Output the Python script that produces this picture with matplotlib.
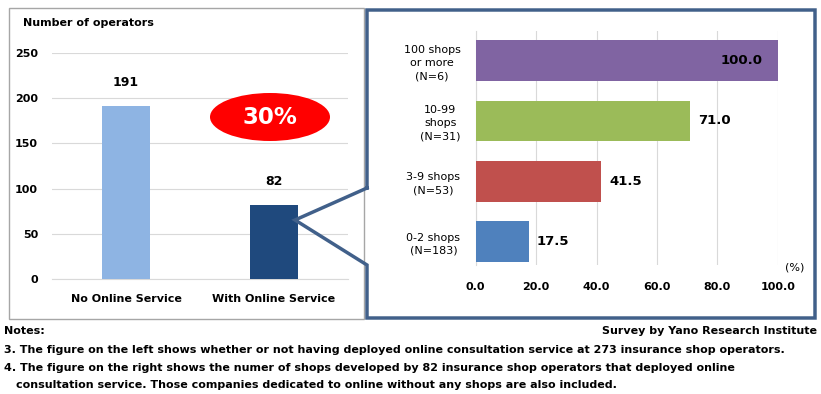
import matplotlib
matplotlib.use("Agg")
import matplotlib.pyplot as plt
from matplotlib.patches import Ellipse, Rectangle
from matplotlib.lines import Line2D

# ---- data ----
left_categories = ["No Online Service", "With Online Service"]
left_values = [191, 82]
left_yticks = [0, 50, 100, 150, 200, 250]

right_categories = ["0-2 shops\n(N=183)", "3-9 shops\n(N=53)", "10-99\nshops\n(N=31)", "100 shops\nor more\n(N=6)"]
right_values = [17.5, 41.5, 71.0, 100.0]
right_xticks = [0, 20, 40, 60, 80, 100]

share_label = "30%"

W, H = 821, 394
plt.rcParams['font.family'] = ['DejaVu Sans']
fig = plt.figure(figsize=(W / 100, H / 100), dpi=100)
fig.patch.set_facecolor('white')

def fx(x):
    return x / W

def fy(y):
    return 1 - y / H

def ax_rect(l, t, r, b):
    return [fx(l), fy(b), (r - l) / W, (b - t) / H]

grid_c = '#D9D9D9'

# ---- left panel ----
axl = fig.add_axes(ax_rect(52, 53, 348, 279))
axl.bar(range(len(left_values)), left_values, width=0.32,
        color=['#8EB4E3', '#1F497D'], zorder=3)
axl.set_xlim(-0.5, 1.5)
axl.set_ylim(0, 250)
axl.set_yticks(left_yticks)
axl.set_yticklabels([str(v) for v in left_yticks], fontsize=8, fontweight='bold')
axl.set_xticks(range(len(left_categories)))
axl.set_xticklabels(left_categories, fontsize=8, fontweight='bold')
axl.tick_params(length=0, pad=10)
axl.tick_params(axis='x', pad=11)
axl.grid(axis='y', color=grid_c, lw=0.8, zorder=0)
for s in ['top', 'right', 'left']:
    axl.spines[s].set_visible(False)
axl.spines['bottom'].set_color(grid_c)
for i, v in enumerate(left_values):
    axl.annotate(str(v), (i, v), xytext=(0, 17), textcoords='offset points',
                 ha='center', va='center', fontsize=9, fontweight='bold')

fig.text(fx(23), fy(23), "Number of operators", fontsize=8, fontweight='bold',
         ha='left', va='center')

ell = Ellipse((fx(270), fy(117)), 120 / W, 48 / H, transform=fig.transFigure,
              facecolor='#FF0000', edgecolor='none', zorder=5)
fig.add_artist(ell)
fig.text(fx(270), fy(118), share_label, fontsize=16.5, fontweight='bold', color='white',
         ha='center', va='center', zorder=6)

# left box
fig.add_artist(Rectangle((fx(9), fy(319)), 355 / W, 311 / H, transform=fig.transFigure,
                         facecolor='none', edgecolor='#A6A6A6', lw=1))

# ---- right panel ----
axr = fig.add_axes(ax_rect(475.7, 30.7, 777.7, 265))
colors_r = ['#4F81BD', '#C0504D', '#9BBB59', '#8064A2']
axr.barh(range(len(right_values)), right_values, height=0.67, color=colors_r, zorder=3)
axr.set_xlim(0, 100)
axr.set_ylim(-0.385, 3.49)
axr.set_xticks(right_xticks)
axr.set_xticklabels([f"{v:.1f}" for v in right_xticks], fontsize=8, fontweight='bold')
axr.set_yticks(range(len(right_categories)))
axr.set_yticklabels(right_categories, fontsize=8, multialignment='center', linespacing=1.4)
axr.tick_params(length=0)
axr.tick_params(axis='x', pad=12)
axr.tick_params(axis='y', pad=11)
axr.grid(axis='x', color=grid_c, lw=0.8, zorder=0)
for s in ['top', 'right', 'bottom']:
    axr.spines[s].set_visible(False)
axr.spines['left'].set_color(grid_c)
for i, v in enumerate(right_values):
    if v >= 95:
        axr.annotate(f"{v:.1f}", (v, i), xytext=(-11, 0), textcoords='offset points',
                     ha='right', va='center', fontsize=9.5, fontweight='bold')
    else:
        axr.annotate(f"{v:.1f}", (v, i), xytext=(6, 0), textcoords='offset points',
                     ha='left', va='center', fontsize=9.5, fontweight='bold')
fig.text(fx(795), fy(268), "(%)", fontsize=8, ha='center', va='center')

# right callout box with connector
box_c = '#41608A'
pts = [(367, 188), (367, 10), (815, 10), (815, 318), (367, 318), (367, 265), (295, 220), (367, 188)]
fig.add_artist(Line2D([fx(p[0]) for p in pts], [fy(p[1]) for p in pts],
                      transform=fig.transFigure, color=box_c, lw=2.5,
                      solid_joinstyle='miter'))

# ---- notes ----
fs = 8.0
fig.text(fx(4), fy(331), "Notes:", fontsize=fs, fontweight='bold', ha='left', va='center')
fig.text(fx(817), fy(331), "Survey by Yano Research Institute", fontsize=fs, fontweight='bold',
         ha='right', va='center')
fig.text(fx(4), fy(350), "3. The figure on the left shows whether or not having deployed online consultation service at 273 insurance shop operators.",
         fontsize=fs, fontweight='bold', ha='left', va='center')
fig.text(fx(4), fy(368), "4. The figure on the right shows the numer of shops developed by 82 insurance shop operators that deployed online",
         fontsize=fs, fontweight='bold', ha='left', va='center')
fig.text(fx(16), fy(385), "consultation service. Those companies dedicated to online without any shops are also included.",
         fontsize=fs, fontweight='bold', ha='left', va='center')

fig.savefig("out.png", dpi=100, facecolor='white')
